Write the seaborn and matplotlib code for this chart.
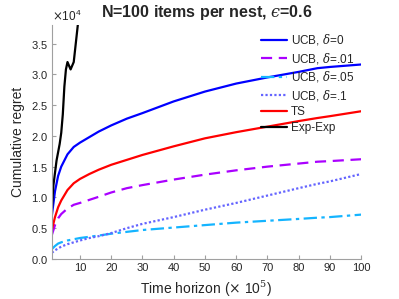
import numpy as np
import matplotlib
matplotlib.use("Agg")
import matplotlib.pyplot as plt
import seaborn as sns
from matplotlib.ticker import ScalarFormatter

# values, regret in units of 1e4, time in units of 1e5
YSCALE = 1e4
t_main = [1, 2, 3, 4, 6, 8, 10, 13, 16, 20, 25, 30, 40, 50, 60, 70, 80, 86, 90, 100]
ucb_0 = [0.71, 1.10, 1.35, 1.50, 1.70, 1.82, 1.89, 1.98, 2.07, 2.17, 2.28, 2.37, 2.56, 2.72, 2.85, 2.95, 3.04, 3.10, 3.12, 3.16]
ucb_01 = [0.39, 0.55, 0.66, 0.73, 0.82, 0.88, 0.91, 0.96, 1.01, 1.08, 1.15, 1.20, 1.29, 1.37, 1.44, 1.50, 1.55, 1.58, 1.59, 1.62]
ucb_05 = [0.16, 0.21, 0.25, 0.27, 0.30, 0.32, 0.34, 0.36, 0.38, 0.41, 0.44, 0.47, 0.51, 0.55, 0.59, 0.62, 0.65, 0.67, 0.68, 0.72]
ucb_1 = [0.10, 0.14, 0.17, 0.20, 0.24, 0.27, 0.30, 0.34, 0.37, 0.42, 0.50, 0.57, 0.68, 0.80, 0.91, 1.03, 1.15, 1.22, 1.26, 1.38]
ts = [0.47, 0.68, 0.84, 0.95, 1.12, 1.23, 1.30, 1.38, 1.45, 1.53, 1.61, 1.69, 1.83, 1.96, 2.06, 2.15, 2.24, 2.29, 2.32, 2.40]
t_exp = [1, 1.5, 2.5, 3.5, 4, 4.5, 5, 5.5, 6, 7, 8, 9.3, 10]
exp_exp = [0.82, 1.20, 1.60, 1.87, 2.05, 2.35, 2.80, 3.08, 3.20, 3.08, 3.20, 3.80, 4.10]

series = [
    (t_main, ucb_0, "UCB, $\\delta$=0", "#0000FF", "-"),
    (t_main, ucb_01, "UCB, $\\delta$=.01", "#AA00FF", (0, (5, 3))),
    (t_main, ucb_05, "UCB, $\\delta$=.05", "#14B4FF", (0, (6, 2, 1.5, 2))),
    (t_main, ucb_1, "UCB, $\\delta$=.1", "#6464FF", (0, (1, 1))),
    (t_main, ts, "TS", "#FF0000", "-"),
    (t_exp, exp_exp, "Exp-Exp", "#000000", "-"),
]

sns.set_style("ticks")
plt.rcParams['font.family'] = ['Liberation Sans', 'DejaVu Sans']
plt.rcParams['mathtext.fontset'] = 'dejavuserif'

fig = plt.figure(figsize=(3.99, 2.99), dpi=100)
ax = fig.add_axes([0.130, 0.134, 0.775, 0.782])

for x, y, lab, c, ls in series:
    sns.lineplot(x=x, y=np.array(y) * YSCALE, ax=ax, color=c, linestyle=ls,
                 linewidth=1.6, label=lab, sort=False)

ax.set_xlim(1, 100)
ax.set_ylim(0, 3.8 * YSCALE)
ax.set_xticks(np.arange(10, 101, 10))
ax.set_yticks(np.arange(0, 3.6, 0.5) * YSCALE)
fmt = ScalarFormatter(useMathText=True)
fmt.set_powerlimits((0, 0))
ax.yaxis.set_major_formatter(fmt)
ax.yaxis.get_offset_text().set_fontsize(8.5)
ax.yaxis.get_offset_text().set_color('#262626')

sns.despine(ax=ax)
for s in ['left', 'bottom']:
    ax.spines[s].set_color('#A0A0A0')
    ax.spines[s].set_linewidth(0.8)
ax.tick_params(direction='in', length=3, color='#A0A0A0', labelsize=8,
               labelcolor='#262626', pad=3)

ax.set_xlabel("Time horizon ($\\times$ 10$^5$)", fontsize=10, color='#262626')
ax.set_ylabel("Cumulative regret", fontsize=10, color='#262626')
# lunate epsilon as in the original
ax.set_title("N=100 items per nest, $\u03f5$=0.6", fontsize=11.5,
             fontweight='bold', pad=6)

ax.legend(loc='upper right', frameon=False, fontsize=8.5, handlelength=2.2,
          handletextpad=0.3, labelspacing=0.3, borderaxespad=0.2,
          bbox_to_anchor=(1.0, 1.0))

fig.savefig("out.png", dpi=100)
